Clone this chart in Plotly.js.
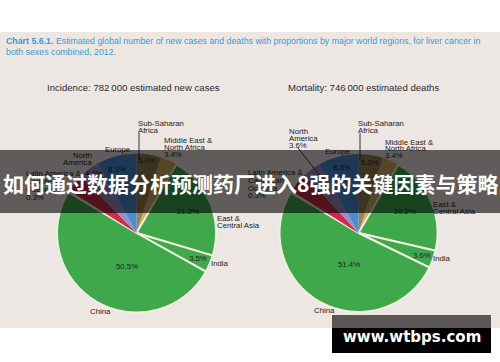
<!DOCTYPE html>
<html><head><meta charset="utf-8">
<script src="https://cdn.plot.ly/plotly-3.0.1.min.js"></script>
<style>html,body{margin:0;padding:0;background:#fff}#chart{width:500px;height:362px}</style>
</head><body><div id="chart"></div>
<script>
// ---- data ----
const regions = ['Sub-Saharan Africa','Middle East & North Africa','East & Central Asia','India','China','Oceania','Latin America & Caribbean','North America','Europe'];
const incidence = [5.0, 3.4, 21.2, 3.5, 50.5, 0.3, 3.8, 4.2, 8.1];
const mortality = [5.0, 3.4, 20.2, 3.6, 51.4, 0.3, 4.2, 3.6, 8.3];
const incidenceTitle = 'Incidence: 782\u2009000 estimated new cases';
const mortalityTitle = 'Mortality: 746\u2009000 estimated deaths';
const chartTitle1 = '<b>Chart 5.6.1.</b> Estimated global number of new cases and deaths with proportions by major world regions, for liver cancer in';
const chartTitle2 = 'both sexes combined, 2012.';
const bannerText = '<b>如何通过数据分析预测药厂进入8强的关键因素与策略</b>';
const watermark = '<b>www.wtbps.com</b>';

// ---- style ----
const sliceColors = ['#9a8350','#d3ae62','#3ea84a','#3ea84a','#3ea84a','#f1eee0','#d02a4a','#9b8dc6','#4a8dd3'];
const sliceLineW = [0,0,2,2,2,0,0,0,0];
const W = 500, H = 362;
const X = p => p / W, Y = p => 1 - p / H;
const pct = v => v.toFixed(1) + '%';
const FONT = 'Liberation Sans, Arial, sans-serif';
const TXT = '#222';

function pie(values, cx, cy, r) {
  return {
    type: 'pie', labels: regions, values: values, sort: false,
    direction: 'clockwise', rotation: 0, textinfo: 'none', hoverinfo: 'skip',
    marker: {colors: sliceColors, line: {color: '#f1eee0', width: sliceLineW}},
    domain: {x: [X(cx - r), X(cx + r)], y: [Y(cy + r), Y(cy - r)]}
  };
}

// label lines: [text, x, y, anchor]
const leftLabels = [
  ['Sub-Saharan',137,123,'left'], ['Africa',137,130,'left'],
  ['Middle East &',163,140,'left'], ['North Africa',163,147,'left'], [pct(incidence[1]),163,154,'left'],
  ['Europe',117,149,'center'],
  ['North',93,155,'right'], ['America',93,162,'right'],
  [pct(incidence[8]),117,169,'center'],
  [pct(incidence[7]),94,173,'center'],
  ['Latin America &',25,173,'left'], ['Caribbean',25,181,'left'], ['Oceania',25,189,'left'], [pct(incidence[5]),25,197,'left'],
  [pct(incidence[0]),147,160,'center'],
  [pct(incidence[2]),188,212,'center'],
  ['East &',216,218,'left'], ['Central Asia',216,225,'left'],
  [pct(incidence[3]),198,258,'center'],
  ['India',210,263,'left'],
  [pct(incidence[4]),127,266,'center'],
  ['China',100,311,'center']
];
const rightLabels = [
  ['Sub-Saharan',357,123,'left'], ['Africa',357,130,'left'],
  ['North',288,132,'left'], ['America',288,138,'left'], [pct(mortality[7]),288,145,'left'],
  ['Middle East &',384,142,'left'], ['North Africa',384,148,'left'], [pct(mortality[1]),384,155,'left'],
  ['Europe',337,151,'center'],
  [pct(mortality[8]),342,168,'center'],
  [pct(mortality[0]),370,162,'center'],
  ['Latin America &',247,172,'left'], ['Caribbean',247,180,'left'], ['Oceania',247,188,'left'], [pct(mortality[5]),247,196,'left'],
  [pct(mortality[2]),405,211,'center'],
  ['East &',432,204,'left'], ['Central Asia',432,211,'left'],
  [pct(mortality[3]),422,255,'center'],
  ['India',432,258,'left'],
  [pct(mortality[4]),349,264,'center'],
  ['China',324,310,'center']
];

const annotations = [];
function txt(t, x, y, anchor, size, color, family) {
  annotations.push({
    text: t, xref: 'paper', yref: 'paper', x: X(x), y: Y(y),
    xanchor: anchor, yanchor: 'middle', showarrow: false, borderpad: 0,
    font: {family: family || FONT, size: size, color: color}
  });
}
txt(chartTitle1, 5, 41, 'left', 8.8, '#3a9bd0');
txt(chartTitle2, 5, 52, 'left', 8.8, '#3a9bd0');
txt(incidenceTitle, 133.5, 87, 'center', 9.6, '#2a2a2a');
txt(mortalityTitle, 363, 87, 'center', 9.6, '#2a2a2a');
leftLabels.concat(rightLabels).forEach(l => txt(l[0], l[1], l[2], l[3], 7.8, TXT));

// overlay banner box (drawn after labels so it covers them), then its text
annotations.push({
  text: ' ', xref: 'paper', yref: 'paper', x: 0.5, y: Y(181.5),
  xanchor: 'center', yanchor: 'middle', showarrow: false,
  width: 500, height: 63, borderpad: 0, borderwidth: 0, bgcolor: 'rgba(0,0,0,0.6)',
  font: {family: FONT, size: 10, color: '#ffffff'}
});
txt(bannerText, 250, 183.5, 'center', 21, '#ffffff', 'Noto Sans CJK SC, sans-serif');
txt(watermark, 411.5, 337, 'center', 15, '#ffffff', 'DejaVu Sans, sans-serif');

const shapes = [
  {type: 'rect', xref: 'paper', yref: 'paper', x0: 0, x1: 1, y0: Y(328), y1: Y(32), fillcolor: '#ede7e4', line: {width: 0}, layer: 'below'},
  {type: 'line', xref: 'paper', yref: 'paper', x0: X(139), x1: X(139), y0: Y(133), y1: Y(160), line: {color: '#333', width: 1}, layer: 'above'},
  {type: 'line', xref: 'paper', yref: 'paper', x0: X(360), x1: X(360), y0: Y(133), y1: Y(160), line: {color: '#333', width: 1}, layer: 'above'},
  {type: 'line', xref: 'paper', yref: 'paper', x0: X(298), x1: X(321), y0: Y(148), y1: Y(177), line: {color: '#333', width: 1}, layer: 'above'},
  {type: 'rect', xref: 'paper', yref: 'paper', x0: X(332), x1: X(491), y0: Y(328), y1: Y(315), fillcolor: '#5a5655', line: {width: 0}, layer: 'above'},
  {type: 'rect', xref: 'paper', yref: 'paper', x0: X(332), x1: X(491), y0: Y(353), y1: Y(328), fillcolor: '#000000', line: {width: 0}, layer: 'above'}
];

const data = [pie(incidence, 136.5, 233, 79.5), pie(mortality, 358.5, 233, 79)];
const layout = {
  width: W, height: H, margin: {l: 0, r: 0, t: 0, b: 0},
  paper_bgcolor: '#ffffff', showlegend: false,
  annotations: annotations, shapes: shapes
};
Plotly.newPlot('chart', data, layout, {displayModeBar: false, staticPlot: true});
</script></body></html>
